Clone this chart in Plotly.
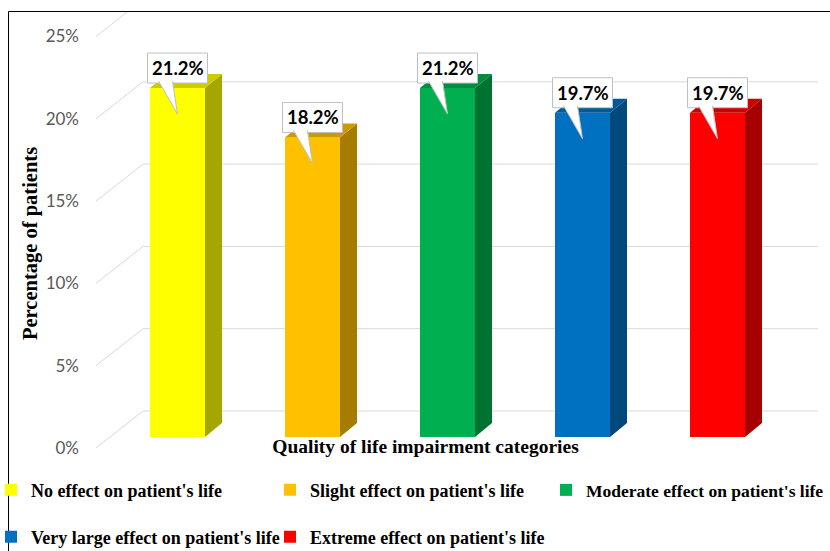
import plotly.graph_objects as go

# ---------------- data ----------------
categories = [
    "No effect on patient's life",
    "Slight effect on patient's life",
    "Moderate effect on patient's life",
    "Very large effect on patient's life",
    "Extreme effect on patient's life",
]
percentages = [21.2, 18.2, 21.2, 19.7, 19.7]
tick_values = [0, 5, 10, 15, 20, 25]
tick_labels = ["0%", "5%", "10%", "15%", "20%", "25%"]

front_colors = ["#FFFF00", "#FFC000", "#00B050", "#0070C0", "#FF0000"]
side_colors = ["#A6A600", "#A67C00", "#007333", "#00497D", "#A60000"]
top_colors = ["#CCCC00", "#CC9A00", "#008D40", "#005A9A", "#CC0000"]

# ---------------- layout geometry (pixels) ----------------
W, H = 830, 551
L, R, T, B = 88, 763, 11, 437
PX_PER_PCT = 16.46
PX_PER_CAT = 135.0
FIRST_CENTER = 177.5

y_max = (B - T) / PX_PER_PCT
x_lo = (L - FIRST_CENTER) / PX_PER_CAT
x_hi = (R - FIRST_CENTER) / PX_PER_CAT
BAR_W = 55 / PX_PER_CAT
DX = 17 / PX_PER_CAT
DY = 14 / PX_PER_PCT


def px_x(p):
    return (p - L) / (R - L)


def px_y(p):
    return (B - p) / (B - T)


def y_px(v):
    return B - v * PX_PER_PCT


SERIF = "Liberation Serif, Times New Roman, serif"
SANS = "Lato, Calibri, Carlito, sans-serif"

# legend placement: (left pixel of legend box, row centre pixel, font size)
legend_pos = [(-9, 490, 18), (270, 490, 18), (546, 490, 17.5), (-9, 537, 18), (270, 537, 18)]
legend_ids = ["legend", "legend2", "legend3", "legend4", "legend5"]

fig = go.Figure()
for i, cat in enumerate(categories):
    fig.add_trace(go.Bar(
        x=[cat], y=[percentages[i]], name=cat,
        marker=dict(color=front_colors[i], line=dict(width=0)),
        width=BAR_W,
        legend=legend_ids[i],
        hovertemplate="%{x}: %{y:.1f}%<extra></extra>",
    ))

shapes = []
# back-wall gridlines and perspective diagonals
for v in tick_values:
    fy = y_px(v) + 11
    by = y_px(v) - 26
    if by >= T:
        shapes.append(dict(type="line", xref="paper", yref="paper", layer="below",
                           x0=px_x(143), x1=px_x(818), y0=px_y(by), y1=px_y(by),
                           line=dict(color="#D9D9D9", width=1)))
        ex, ey = 143, by
    else:
        t = (fy - T) / (fy - by)
        ex, ey = 96 + t * (143 - 96), T
    shapes.append(dict(type="line", xref="paper", yref="paper", layer="below",
                       x0=px_x(96), x1=px_x(ex), y0=px_y(fy), y1=px_y(ey),
                       line=dict(color="#D9D9D9", width=1)))

# 3D side and top faces of bars
for i, v in enumerate(percentages):
    xl = i - BAR_W / 2
    xr = i + BAR_W / 2
    shapes.append(dict(type="path", xref="x", yref="y", layer="above",
                       path=f"M{xr},0 L{xr},{v} L{xr + DX},{v + DY} L{xr + DX},{DY} Z",
                       fillcolor=side_colors[i], line=dict(width=0)))
    shapes.append(dict(type="path", xref="x", yref="y", layer="above",
                       path=f"M{xl},{v} L{xl + DX},{v + DY} L{xr + DX},{v + DY} L{xr},{v} Z",
                       fillcolor=top_colors[i], line=dict(width=0)))

# callout boxes for data labels
for i, v in enumerate(percentages):
    shapes.append(dict(type="rect", xref="x", yref="y", layer="above",
                       xsizemode="pixel", ysizemode="pixel", xanchor=i, yanchor=v,
                       x0=-30, x1=30, y0=5, y1=35,
                       fillcolor="white", line=dict(color="#BFBFBF", width=1)))
    shapes.append(dict(type="path", xref="x", yref="y", layer="above",
                       xsizemode="pixel", ysizemode="pixel", xanchor=i, yanchor=v,
                       path="M-19,7 L0,-26 L-5,7",
                       fillcolor="white", line=dict(color="#BFBFBF", width=1)))

# frame
shapes.append(dict(type="rect", xref="paper", yref="paper", layer="above",
                   x0=px_x(8.5), x1=px_x(840), y0=px_y(11.5), y1=px_y(560),
                   line=dict(color="black", width=1), fillcolor="rgba(0,0,0,0)"))

annotations = []
for i, v in enumerate(percentages):
    annotations.append(dict(x=categories[i], y=v, xref="x", yref="y",
                            text=f"{v:.1f}%", showarrow=False, yshift=20,
                            font=dict(family=SANS, size=18.5, color="black", weight="bold")))
annotations.append(dict(x=px_x(30), y=px_y(244), xref="paper", yref="paper",
                        xanchor="center", yanchor="middle",
                        text="<b>Percentage of patients</b>", textangle=-90, showarrow=False,
                        font=dict(family=SERIF, size=20.5, color="black")))

legend_layouts = {}
for lid, (lx, ly, fs) in zip(legend_ids, legend_pos):
    legend_layouts[lid] = dict(
        orientation="h", x=px_x(lx), y=px_y(ly), xanchor="left", yanchor="middle",
        itemclick=False, itemdoubleclick=False,
        font=dict(family=SERIF, size=fs, color="black", weight="bold"),
        bgcolor="rgba(0,0,0,0)")

fig.update_layout(
    width=W, height=H,
    margin=dict(l=L, r=W - R, t=T, b=H - B, pad=0, autoexpand=False),
    paper_bgcolor="white", plot_bgcolor="rgba(0,0,0,0)",
    barmode="overlay",
    showlegend=True,
    xaxis=dict(type="category", categoryorder="array", categoryarray=categories,
               range=[x_lo, x_hi], showticklabels=False, showgrid=False,
               zeroline=False, showline=False, ticks="", automargin=False,
               title=dict(text="<b>Quality of life impairment categories</b>", standoff=2,
                          font=dict(family=SERIF, size=19.5, color="black"))),
    yaxis=dict(range=[0, y_max], tickvals=tick_values, ticktext=tick_labels,
               showgrid=False, zeroline=False, showline=False, ticks="",
               ticklabelstandoff=8, ticklabelshift=11, automargin=False,
               tickfont=dict(family=SANS, size=17, color="#595959")),
    shapes=shapes,
    annotations=annotations,
    **legend_layouts,
)

fig.write_html("out.html")
